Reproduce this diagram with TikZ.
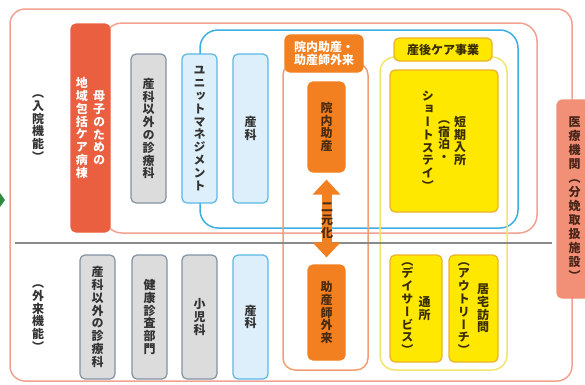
\documentclass[tikz,border=0pt]{standalone}
\usepackage{fontspec}
\usetikzlibrary{arrows.meta}
\newfontfamily\jpv[RawFeature=+vert]{Noto Sans CJK JP}
\newfontfamily\jph{Noto Sans CJK JP}
\definecolor{salmonline}{HTML}{F2A193}
\definecolor{redfill}{HTML}{EA5F3F}
\definecolor{medfill}{HTML}{F19077}
\definecolor{medtext}{HTML}{4A2418}
\definecolor{blueline}{HTML}{3DAEE0}
\definecolor{bluefill}{HTML}{DCEFFB}
\definecolor{blueedge}{HTML}{5BB7E5}
\definecolor{grayfill}{HTML}{DCDCDC}
\definecolor{grayedge}{HTML}{8292A3}
\definecolor{orangefill}{HTML}{F28020}
\definecolor{orangeline}{HTML}{F0A070}
\definecolor{orangetext}{HTML}{4A2A10}
\definecolor{yellowline}{HTML}{F3E56B}
\definecolor{yellowfill}{HTML}{FFE800}
\definecolor{yellowedge}{HTML}{EDB02A}
\definecolor{yellowtext}{HTML}{3A2E00}
\definecolor{divider}{HTML}{8A8A8A}
\definecolor{txt}{HTML}{333333}
\definecolor{arrowgreen}{HTML}{2E8B3E}
\newlength\vtstep
\setlength\vtstep{12.8pt}
\makeatletter
\newcommand\vt[1]{\vbox{\jpv\baselineskip=\vtstep\lineskiplimit=-100pt\lineskip=0pt\vt@loop#1\@nil}}
\def\vt@loop#1{\ifx\@nil#1\else\hbox to 1.1em{\hss#1\hss}\expandafter\vt@loop\fi}
\makeatother
\newcommand\vtwo[3][4pt]{$\vcenter{\vt{#2}}\hspace{#1}\vcenter{\vt{#3}}$}
\newcommand\vthree[3]{$\vcenter{\vt{#1}}\hspace{3pt}\vcenter{\vt{#2}}\hspace{3pt}\vcenter{\vt{#3}}$}
\newcommand\jpfont{\jph\fontsize{12}{14}\selectfont\bfseries}
\tikzset{
  container/.style={line width=1.5pt},
  box/.style={rounded corners=5pt, line width=1.2pt, inner sep=0pt, font=\jpfont, text=txt},
  graybox/.style={box, draw=grayedge, fill=grayfill},
  bluebox/.style={box, draw=blueedge, fill=bluefill},
  orangebox/.style={box, draw=orangefill, fill=orangefill, text=orangetext},
  yellowbox/.style={box, draw=yellowedge, fill=yellowfill, text=yellowtext},
  sidelabel/.style={inner sep=0pt, font=\jpfont, text=txt}
}
\begin{document}
\begin{tikzpicture}[x=1pt,y=-1pt]
\useasboundingbox (0,0) rectangle (585,384);
% containers
\draw[container, salmonline, rounded corners=15pt] (10,9) rectangle (572,381);
\draw[container, salmonline, rounded corners=18pt] (104,23) rectangle (537,233);
\draw[container, blueline, rounded corners=18pt] (200,30) rectangle (518,228);
\draw[container, orangeline, rounded corners=12pt] (283,63) rectangle (368,370);
\draw[container, yellowline, rounded corners=15pt] (380,57) rectangle (507,370);
\draw[line width=1.2pt, divider] (15,243) -- (552,243);
% green arrow tip at left edge
\fill[arrowgreen] (0,193) -- (5,200) -- (0,207) -- cycle;
% side labels
\node[sidelabel] (inpat) at (38,128) {\vt{（入院機能）}};
\node[sidelabel] (outpat) at (38,318) {\vt{（外来機能）}};
% red ward box
\node[box, draw=redfill, fill=redfill, text=white, minimum width=39, minimum height=208] (ward) at (90.5,128) {\vtwo{地域包括ケア病棟}{母子のための}};
% top section columns
\node[graybox, minimum width=35, minimum height=149] (nonobsA) at (148.5,128.5) {\vt{産科以外の診療科}};
\node[bluebox, minimum width=35, minimum height=149] (unit) at (199.5,128.5) {\vt{ユニットマネジメント}};
\node[bluebox, minimum width=35, minimum height=149] (obsA) at (250.5,128.5) {\vt{産科}};
% bottom section columns
\node[graybox, minimum width=35, minimum height=124] (nonobsB) at (97.5,317) {\vt{産科以外の診療科}};
\node[graybox, minimum width=35, minimum height=124] (kenshin) at (149.5,317) {\vt{健康診査部門}};
\node[graybox, minimum width=35, minimum height=124] (shoni) at (199.5,317) {\vt{小児科}};
\node[bluebox, minimum width=35, minimum height=124] (obsB) at (250.5,317) {\vt{産科}};
% midwife
\node[box, draw=orangefill, fill=orangefill, text=white, minimum width=78, minimum height=37, align=center] (midlabel) at (324,53.5) {院内助産・\\[-1pt]助産師外来};
\node[orangebox, minimum width=37, minimum height=90] (inai) at (326.5,127) {\vt{院内助産}};
\node[orangebox, minimum width=37, minimum height=95] (josan) at (326.5,312.5) {\vt{助産師外来}};
\draw[orangefill, line width=10pt, {Triangle[length=15pt,width=27pt]}-{Triangle[length=15pt,width=27pt]}, shorten <=7pt, shorten >=7pt] (inai.south) -- (josan.north);
\node[sidelabel, text=orangetext] (niko) at (327,221) {\vt{二元化}};
% postpartum care
\node[yellowbox, minimum width=98, minimum height=23] (carelabel) at (443,49.5) {産後ケア事業};
\node[yellowbox, minimum width=108, minimum height=142] (short) at (444,141) {\vthree{ショートステイ）}{（宿泊・}{短期入所}};
\node[yellowbox, minimum width=52, minimum height=107] (tsusho) at (416,308.5) {\vtwo{（デイサービス）}{通所}};
\node[yellowbox, minimum width=49, minimum height=107] (kyotaku) at (473.5,308.5) {\vtwo[6pt]{（アウトリーチ）}{居宅訪問}};
% medical institution
\setlength\vtstep{14pt}
\node[box, draw=medfill, fill=medfill, text=medtext, minimum width=35, minimum height=198] (medical) at (574.5,199) {\vt{医療機関（分娩取扱施設）}};
\end{tikzpicture}
\end{document}
